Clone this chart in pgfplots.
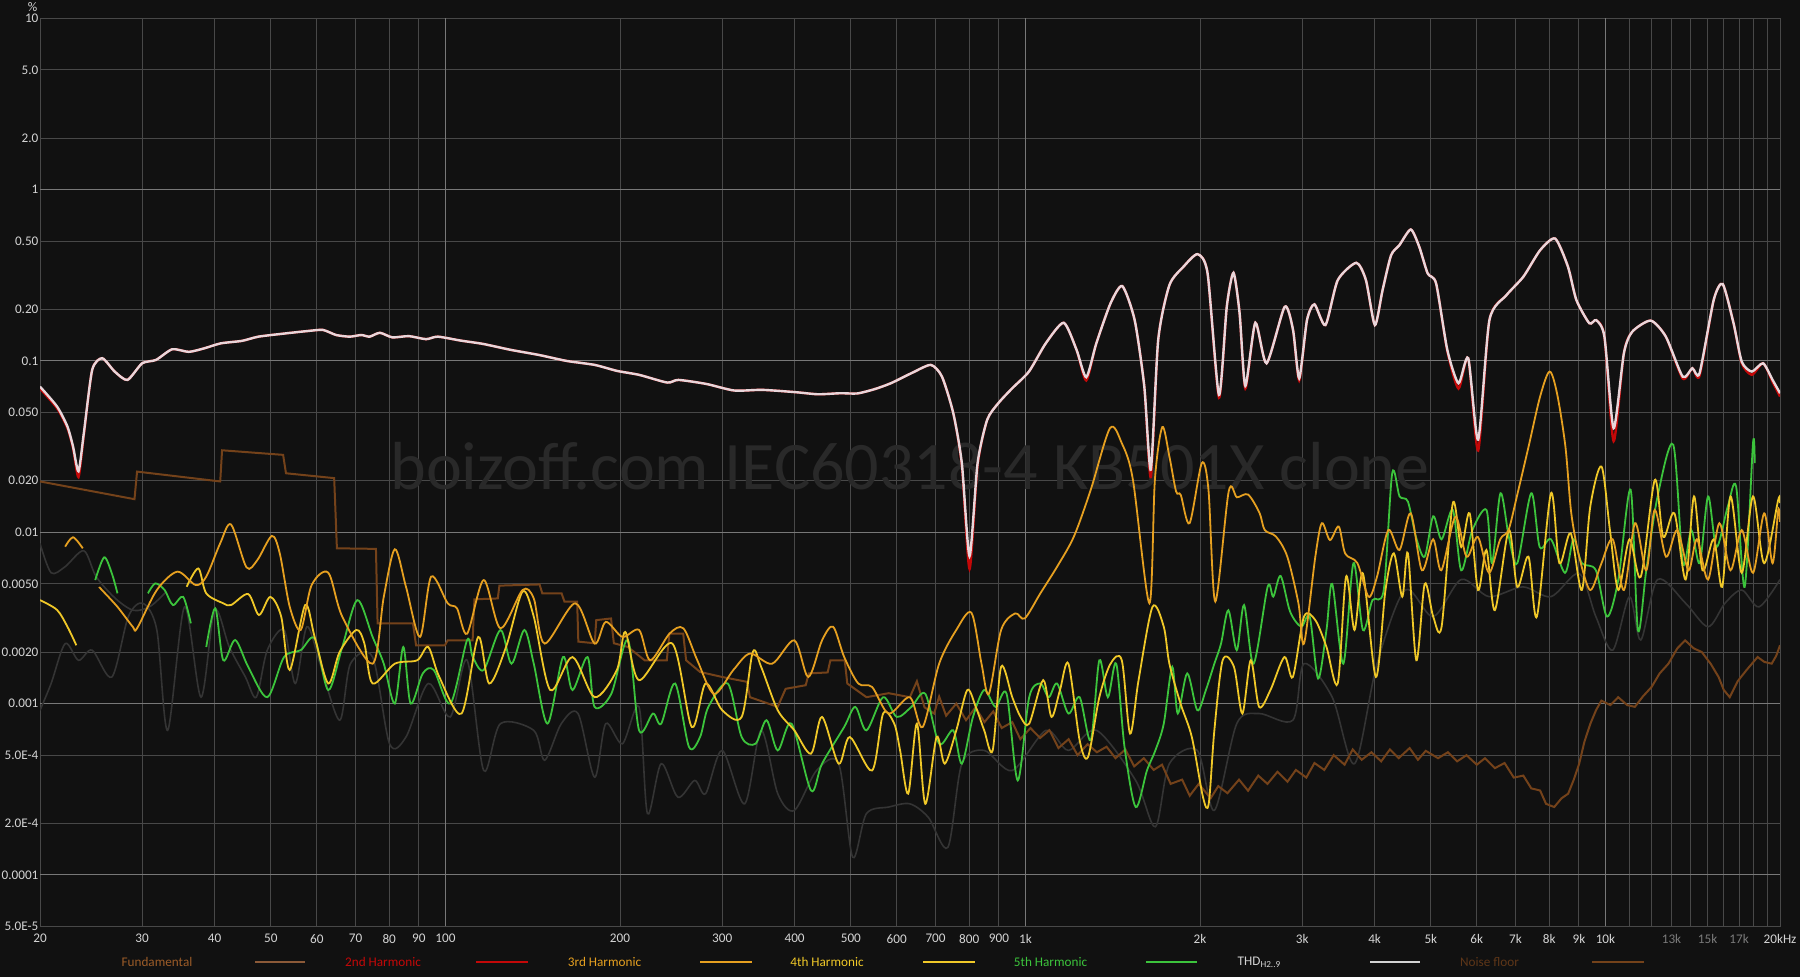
\documentclass[border=0pt]{standalone}
\usepackage{pgfplots}
\pgfplotsset{compat=1.18}
\usepackage{fontspec}
\setmainfont{Carlito}
\definecolor{bg}{HTML}{111111}
\definecolor{gridc}{HTML}{484848}
\definecolor{gridb}{HTML}{787878}
\definecolor{tickc}{HTML}{D4D4D4}
\definecolor{tickdim}{HTML}{7A7A7A}
\definecolor{wm}{HTML}{292929}
\definecolor{thdc}{HTML}{E8D6DA}
\definecolor{h2c}{HTML}{C40808}
\definecolor{h3c}{HTML}{E6A020}
\definecolor{h4c}{HTML}{F0C828}
\definecolor{h5c}{HTML}{3CC43C}
\definecolor{grayc}{HTML}{343434}
\definecolor{noisec}{HTML}{74421A}
\definecolor{fundc}{HTML}{9C5C28}
\definecolor{fundl}{HTML}{8C5A38}
\definecolor{noiset}{HTML}{5E3618}
\begin{document}
\begin{tikzpicture}
\fill[bg] (0,0) rectangle (900pt,488.5pt);
\begin{axis}[
  at={(20pt,25.25pt)}, anchor=south west,
  scale only axis, width=870pt, height=454.1pt,
  xmode=log, ymode=log,
  xmin=20, xmax=20000, ymin=5e-5, ymax=10,
  axis line style={draw=gridc, line width=0.5pt},
  xtick={20,30,40,50,60,70,80,90,100,200,300,400,500,600,700,800,900,1000,2000,3000,4000,5000,6000,7000,8000,9000,10000,11000,12000,13000,14000,15000,16000,17000,18000,19000,20000},
  xticklabels={20,30,40,50,60,70,80,90,100,200,300,400,500,600,700,800,900,1k,2k,3k,4k,5k,6k,7k,8k,9k,10k,,,\textcolor{tickdim}{13k},,\textcolor{tickdim}{15k},,\textcolor{tickdim}{17k},,,20kHz},
  ytick={5e-5,1e-4,2e-4,5e-4,0.001,0.002,0.005,0.01,0.02,0.05,0.1,0.2,0.5,1,2,5,10},
  yticklabels={5.0E-5,0.0001,2.0E-4,5.0E-4,0.001,0.0020,0.0050,0.01,0.020,0.050,0.1,0.20,0.50,1,2.0,5.0,10},
  extra x ticks={100,1000,10000}, extra x tick labels={},
  extra x tick style={grid=major, major grid style={draw=gridb, line width=0.5pt}},
  extra y ticks={1e-4,0.001,0.01,0.1,1}, extra y tick labels={},
  extra y tick style={grid=major, major grid style={draw=gridb, line width=0.5pt}},
  grid=major, major grid style={draw=gridc, line width=0.5pt},
  major tick length=0pt, minor tick num=0,
  ticklabel style={font=\fontsize{6.6}{7}\selectfont, text=tickc},
  xticklabel style={anchor=north, inner sep=0pt, yshift=-3.6pt},
  yticklabel style={anchor=east, inner sep=0pt, xshift=-0.6pt},
  clip=true,
]
\node[anchor=base, text=wm, font=\fontsize{34}{36}\selectfont] at (rel axis cs:0.5,0.481) {boizoff.com IEC60318-4 KB501X clone};

% gray (unlabelled) traces
\addplot[grayc, line width=0.8pt, smooth, tension=0.5] coordinates {
(20,0.0086)(20.9,0.0058)(22.1,0.0063)(23.8,0.0078)(25,0.0055)(27,0.0041)(29,0.0035)(31,0.0037)(33,0.0045)};
\addplot[grayc, line width=0.8pt, smooth, tension=0.5] coordinates {
(20,0.000914)(20.9,0.00131)(22.1,0.00224)(23.3,0.00179)(24.6,0.00205)(26.6,0.00143)(28.4,0.00322)(30.1,0.00385)(31.8,0.00269)(33.2,0.000698)(35.5,0.00367)(37.9,0.00109)(40,0.00351)(42.4,0.00214)(45.2,0.00143)(47.2,0.00109)(49.3,0.00205)(52.7,0.00269)(55.1,0.00131)(57.7,0.00281)(60.8,0.00171)(65.7,0.0008)(68.6,0.00171)(74.9,0.00187)(80.1,0.000583)(85.5,0.000638)(93.4,0.00131)(101.9,0.000836)(109,0.00179)(116.4,0.000407)(124.4,0.000764)(142,0.000698)(148.3,0.000467)(158.4,0.000764)(169.3,0.000875)(180.8,0.000372)(189,0.000764)(201.9,0.000583)(215.7,0.000957)(223,0.000228)(235.5,0.000446)(251.7,0.000284)(269,0.000356)(280.9,0.000298)(300.1,0.000533)(328,0.00026)(350.2,0.000698)(374.1,0.000298)(399.6,0.000238)(436.5,0.000407)(476.4,0.000446)(503.6,0.000127)(532,0.000228)(581,0.000249)(632,0.00026)(680,0.000217)(735,0.000145)(777,0.000446)(849,0.000533)(949,0.000407)(1085,0.000698)(1186,0.000533)(1326,0.000698)(1549,0.000356)(1675,0.000191)(1771,0.000446)(1979,0.000533)(2117,0.000238)(2314,0.000764)(2529,0.000875)(2891,0.0008)(3022,0.00171)(3380,0.00109)(3694,0.000446)(4038,0.00171)(4513,0.0046)(5047,0.00322)(5641,0.0053)(6300,0.00421)(7205,0.0048)(8056,0.00421)(9010,0.00575)(9627,0.00322)(10293,0.00205)(11002,0.00421)(11506,0.00235)(12300,0.0053)(13750,0.00385)(15030,0.00281)(16070,0.00385)(17180,0.0046)(18400,0.00367)(20000,0.0053)};

% noise floor
\addplot[noisec, line width=1pt] coordinates {
(20,0.0198)(29.1,0.0156)(29.4,0.0226)(40.9,0.0198)(41.2,0.0301)(52.5,0.0283)(53.1,0.0221)(64.3,0.0207)(65.0,0.00806)(75.9,0.008)(76.4,0.00294)(87.9,0.00294)(89.0,0.00219)(99.8,0.00219)(100.9,0.00234)(111.4,0.00234)(112.2,0.00406)(123.1,0.00411)(123.9,0.00488)(145.3,0.00496)(146.9,0.0044)(158.6,0.0044)(160.4,0.00394)(168.7,0.00394)(169.5,0.0023)(180.9,0.00225)(182,0.00307)(193,0.00314)(195.2,0.00225)(206.4,0.00214)(220.5,0.00179)(240.8,0.00179)(243.3,0.00256)(257,0.00256)(260,0.00179)(274.8,0.00153)(300,0.00143)(331,0.00134)(335,0.00109)(374,0.000957)(386,0.00122)(418,0.00128)(423,0.0015)(456,0.00152)(461,0.00179)(488,0.00179)(493,0.00131)(532,0.00109)(581,0.00115)(632,0.00109)(650,0.00135)(670,0.00095)(696,0.000875)(710,0.0011)(730,0.00085)(760,0.001)(790,0.0008)(820,0.00095)(850,0.00078)(880,0.0009)(910,0.00072)(949,0.00078)(980,0.00062)(1020,0.00072)(1060,0.00063)(1100,0.0007)(1140,0.00055)(1187,0.00062)(1230,0.0005)(1280,0.00058)(1328,0.00052)(1380,0.00056)(1430,0.00048)(1487,0.00054)(1540,0.00043)(1600,0.00048)(1664,0.00041)(1720,0.00044)(1780,0.00034)(1863,0.00036)(1920,0.00029)(1990,0.00034)(2086,0.00028)(2150,0.00033)(2230,0.0003)(2335,0.00036)(2420,0.00031)(2520,0.00038)(2614,0.00034)(2720,0.0004)(2830,0.00035)(2926,0.00041)(3050,0.00037)(3150,0.00045)(3276,0.00041)(3400,0.0005)(3550,0.00044)(3667,0.00054)(3800,0.00047)(3950,0.00052)(4105,0.00046)(4250,0.00054)(4400,0.00048)(4596,0.00055)(4750,0.00047)(4900,0.00053)(5145,0.00048)(5350,0.00052)(5550,0.00046)(5760,0.0005)(6000,0.00044)(6200,0.00048)(6448,0.00042)(6700,0.00045)(6950,0.00037)(7218,0.00038)(7450,0.00032)(7717,0.000311)(7900,0.00026)(8160,0.000249)(8400,0.00028)(8625,0.000298)(8820,0.00036)(9010,0.000446)(9200,0.0006)(9420,0.000764)(9640,0.00092)(9840,0.00104)(10200,0.00098)(10520,0.00109)(10900,0.00098)(11240,0.000957)(11600,0.0011)(12010,0.00125)(12400,0.0015)(12840,0.00171)(13300,0.0021)(13720,0.00234)(14200,0.0021)(14660,0.002)(15200,0.0017)(15670,0.00143)(16000,0.0012)(16380,0.00109)(16900,0.00135)(17510,0.00157)(18300,0.00187)(18800,0.00175)(19350,0.00171)(19700,0.0019)(20000,0.00219)};

% 5th harmonic (drawn in segments where it rises above the rest)
\addplot[h5c, line width=0.9pt, smooth, tension=0.5] coordinates {
(24.9,0.00526)(25.8,0.00714)(26.6,0.00575)(27.2,0.0044)};
\addplot[h5c, line width=0.9pt, smooth, tension=0.5] coordinates {
(30.7,0.0044)(31.6,0.00503)(32.8,0.0046)(33.9,0.00376)(35.3,0.0042)(36.4,0.00294)};
\addplot[h5c, line width=0.9pt, smooth, tension=0.5] coordinates {
(38.7,0.00214)(40.1,0.0036)(41.4,0.00179)(43.4,0.00235)(45.7,0.00164)(49.3,0.00109)(52.7,0.00187)(56.3,0.00205)(59.5,0.0024)(62.8,0.0012)(66.4,0.00214)(70.5,0.00402)(74.9,0.00245)(78.3,0.00171)(81.8,0.001)(84.6,0.00214)(87.1,0.001)(91.4,0.0015)(95.5,0.00157)(102,0.001)(109,0.00235)(111.4,0.00188)(116.4,0.00157)(124.4,0.00269)(130,0.00171)(136.8,0.00269)(142,0.00171)(150,0.000764)(159.5,0.00187)(165.6,0.0012)(175.8,0.00187)(180.8,0.000957)(193.2,0.00114)(206.4,0.00235)(215.7,0.000698)(227.9,0.000875)(235.5,0.000764)(248.9,0.00131)(263,0.000558)(274.8,0.000638)(284,0.000957)(306.8,0.00131)(324.2,0.000638)(342.5,0.000583)(357.9,0.0008)(374.1,0.000533)(395.2,0.000764)(426.9,0.000311)(446,0.000446)(487,0.000731)(509,0.000957)(532,0.000698)(568.4,0.00109)(600,0.000836)(636,0.000957)(672,0.00114)(710,0.000583)(751,0.000698)(777,0.000446)(812,0.000836)(849,0.0012)(888,0.000957)(928,0.00114)(970,0.000356)(1015,0.00109)(1061,0.00131)(1097,0.00109)(1134,0.00131)(1186,0.000875)(1240,0.00109)(1296,0.000611)(1341,0.00179)(1387,0.00109)(1434,0.00171)(1482,0.000558)(1549,0.000249)(1620,0.000407)(1675,0.000533)(1732,0.000764)(1791,0.00164)(1831,0.000875)(1901,0.0015)(1979,0.000914)(2047,0.0012)(2117,0.00171)(2174,0.00224)(2238,0.00351)(2314,0.00205)(2382,0.00376)(2474,0.00171)(2616,0.00481)(2675,0.00421)(2754,0.00556)(2860,0.00344)(2989,0.00281)(3091,0.00322)(3196,0.0014)(3304,0.00269)(3380,0.005)(3533,0.00171)(3678,0.0066)(3819,0.00269)(3966,0.00402)(4147,0.0046)(4289,0.0221)(4416,0.0162)(4565,0.0151)(4720,0.00923)(4880,0.00721)(5047,0.0124)(5218,0.0091)(5456,0.0135)(5641,0.006)(5897,0.0103)(6235,0.0135)(6376,0.0066)(6592,0.0169)(6815,0.0094)(7047,0.0066)(7450,0.0169)(7704,0.0082)(8056,0.0091)(8518,0.0058)(8808,0.0091)(9106,0.0066)(9627,0.006)(10064,0.00322)(10525,0.0053)(11052,0.0177)(11376,0.00269)(11760,0.006)(12300,0.0162)(13090,0.0324)(13600,0.0066)(14060,0.0103)(14540,0.0066)(15030,0.0162)(15540,0.0082)(16250,0.0141)(16800,0.0185)(17380,0.0048)(17965,0.0331)(18090,0.0253)};

% 4th harmonic
\addplot[h4c, line width=0.9pt, smooth, tension=0.5] coordinates {
(20,0.00402)(21.4,0.00352)(22.3,0.00281)(23.1,0.00219)};
\addplot[h4c, line width=0.9pt, smooth, tension=0.5] coordinates {
(35.8,0.00481)(37.5,0.00615)(38.7,0.0044)(41.4,0.00385)(42.7,0.00376)(45.7,0.00436)(47.7,0.00329)(49.9,0.0042)(52.1,0.00322)(53.9,0.00157)(57.3,0.00376)(59.5,0.00245)(62.8,0.00131)(65.7,0.002)(70.2,0.00269)(72.5,0.00224)(74.9,0.00131)(81.8,0.00171)(89.4,0.00179)(93.4,0.00214)(97.6,0.00143)(106.6,0.000875)(113.9,0.00245)(119,0.00131)(127.2,0.00214)(135.8,0.0045)(142,0.00322)(151.6,0.0012)(165.6,0.00187)(180.8,0.00109)(197.5,0.00157)(204.2,0.00262)(215.7,0.00137)(246.2,0.00224)(265.9,0.00073)(280.9,0.00131)(300.1,0.000914)(324.2,0.000836)(338.8,0.002)(350.2,0.00164)(374.1,0.000914)(399.6,0.000698)(426.9,0.00051)(446,0.000836)(476.4,0.000446)(498,0.000638)(544,0.000407)(568.4,0.000875)(594,0.000764)(608,0.000533)(628,0.000298)(650,0.000764)(672,0.00026)(703,0.000638)(726,0.000446)(760,0.000698)(794,0.0012)(821,0.000957)(849,0.000698)(878,0.000533)(908,0.00164)(949,0.00109)(981,0.000836)(1015,0.000764)(1073,0.00137)(1109,0.000836)(1147,0.0012)(1186,0.00171)(1240,0.000611)(1282,0.000488)(1341,0.00109)(1402,0.00171)(1466,0.00179)(1515,0.000668)(1567,0.00137)(1656,0.00367)(1732,0.00281)(1771,0.00171)(1851,0.001)(1936,0.000638)(2024,0.000284)(2070,0.00026)(2117,0.000698)(2188,0.00179)(2288,0.00164)(2366,0.000875)(2446,0.00179)(2529,0.000957)(2645,0.0012)(2796,0.00187)(2891,0.00143)(3022,0.00322)(3161,0.00307)(3304,0.00214)(3455,0.00131)(3572,0.00551)(3693,0.00269)(3819,0.00575)(4020,0.00143)(4176,0.0046)(4317,0.00754)(4464,0.00421)(4565,0.00754)(4720,0.00179)(4880,0.005)(5047,0.00322)(5218,0.00281)(5456,0.0148)(5641,0.0082)(5833,0.0129)(6030,0.0046)(6235,0.00788)(6447,0.00351)(6815,0.0103)(7047,0.0048)(7368,0.00721)(7618,0.00322)(8056,0.0169)(8329,0.0066)(8710,0.00987)(9106,0.0046)(9415,0.0141)(9844,0.0242)(10180,0.0103)(10525,0.0046)(11002,0.0091)(11506,0.0055)(12165,0.0202)(12580,0.0094)(13150,0.0129)(13750,0.0053)(14215,0.0162)(14700,0.006)(15370,0.0091)(15895,0.0048)(16435,0.0162)(17180,0.0058)(17965,0.0162)(18780,0.0066)(19860,0.0155)(20000,0.0148)};

% 3rd harmonic
\addplot[h3c, line width=0.9pt, smooth, tension=0.5] coordinates {
(22.1,0.00824)(22.8,0.00935)(23.7,0.00806)};
\addplot[h3c, line width=0.9pt, smooth, tension=0.5] coordinates {
(25.3,0.0048)(25.5,0.00465)(27.2,0.00367)(28.9,0.00281)(29.4,0.00275)(31.8,0.0046)(34.5,0.00589)(37.1,0.00492)(38.7,0.00551)(40.9,0.00863)(42.7,0.0111)(45.4,0.00624)(47.4,0.00689)(50.2,0.00952)(51.8,0.00754)(53.9,0.00367)(56.3,0.00269)(58.8,0.00492)(62.8,0.00581)(66.4,0.00322)(74.9,0.00171)(78.3,0.0042)(81.8,0.00796)(85.5,0.00481)(90.4,0.00245)(94.5,0.00551)(100.9,0.00385)(104.7,0.0036)(109,0.00256)(116.4,0.00526)(124.4,0.00275)(135.8,0.0046)(142,0.00411)(148.3,0.00224)(167.4,0.00385)(180.8,0.00224)(189,0.003)(201.9,0.00245)(215.7,0.00269)(225.4,0.00179)(243.4,0.00256)(257.2,0.00275)(271.8,0.00179)(290.4,0.00114)(313.6,0.00157)(335,0.00196)(365.9,0.00171)(399.6,0.00234)(422.3,0.00143)(446,0.00234)(466,0.00281)(487,0.00187)(515,0.00131)(544,0.00125)(581,0.000875)(632,0.00109)(665,0.00073)(710,0.00171)(760,0.00269)(807,0.00339)(840,0.00171)(865,0.00114)(908,0.00269)(960,0.00336)(997,0.00314)(1061,0.0044)(1134,0.0063)(1212,0.00944)(1296,0.0177)(1399,0.0405)(1466,0.0331)(1532,0.0203)(1636,0.00385)(1672,0.0203)(1722,0.0411)(1771,0.0277)(1819,0.0173)(1853,0.0165)(1919,0.0113)(2014,0.0253)(2068,0.0177)(2125,0.00394)(2241,0.0173)(2316,0.016)(2420,0.0166)(2532,0.013)(2586,0.0103)(2704,0.00944)(2828,0.00721)(2956,0.00385)(3022,0.00224)(3161,0.0072)(3244,0.0113)(3350,0.009)(3469,0.0108)(3560,0.0075)(3736,0.0066)(3906,0.0042)(4038,0.0055)(4223,0.0103)(4415,0.00788)(4616,0.0129)(4826,0.006)(5046,0.0091)(5213,0.006)(5512,0.0123)(5762,0.0072)(6025,0.0094)(6300,0.0058)(6586,0.0091)(6806,0.0103)(7048,0.0166)(7372,0.0317)(7717,0.062)(8010,0.0867)(8250,0.0648)(8530,0.0317)(8730,0.013)(9010,0.0072)(9415,0.0046)(9844,0.0066)(10293,0.0091)(10760,0.0046)(11250,0.0113)(11760,0.006)(12160,0.0135)(12720,0.0072)(13300,0.0103)(13910,0.006)(14380,0.0091)(15030,0.0053)(15720,0.0113)(16430,0.006)(17180,0.0103)(17970,0.0058)(18780,0.0129)(19420,0.0066)(19860,0.0135)(20000,0.0115)};

% 2nd harmonic
\addplot[h2c, line width=1.2pt, smooth, tension=0.4] coordinates {
(20,0.069)(21.4,0.053)(22.3,0.0405)(22.8,0.031)(23.3,0.021)(23.8,0.037)(24.6,0.0886)(25.6,0.1037)(26.9,0.0867)(28.3,0.0775)(30.0,0.0969)(31.7,0.1014)(33.8,0.117)(36.1,0.113)(38.4,0.1185)(41.0,0.1267)(44.6,0.131)(47.6,0.1386)(53.1,0.1449)(58.0,0.1496)(61.5,0.1517)(64.8,0.1417)(68.4,0.1386)(71.6,0.1417)(74.0,0.1386)(77.1,0.146)(81.0,0.1373)(86.5,0.1396)(92.6,0.134)(97.0,0.1386)(106.2,0.1315)(116.1,0.1257)(129.7,0.116)(144.9,0.1084)(161.9,0.1)(180.9,0.0948)(197.6,0.0875)(215.9,0.0829)(241.2,0.0748)(252.2,0.0775)(281.8,0.0734)(314.8,0.0672)(351.7,0.0678)(402,0.0657)(439,0.0639)(480,0.0648)(513,0.0646)(549,0.0684)(586,0.0741)(639,0.0855)(687,0.0948)(718,0.081)(751,0.0496)(777,0.0245)(801,0.0061)(827,0.0245)(859,0.0453)(898,0.0567)(949,0.0693)(1014,0.0867)(1084,0.1267)(1164,0.167)(1225,0.116)(1273,0.077)(1325,0.1267)(1402,0.217)(1469,0.2735)(1543,0.173)(1603,0.0709)(1645,0.021)(1694,0.1325)(1771,0.277)(1873,0.355)(1981,0.42)(2061,0.324)(2156,0.061)(2224,0.2073)(2284,0.327)(2340,0.19)(2394,0.069)(2491,0.167)(2605,0.0969)(2799,0.207)(2893,0.152)(2965,0.077)(3058,0.173)(3150,0.214)(3291,0.162)(3455,0.296)(3720,0.374)(3865,0.296)(4004,0.162)(4128,0.259)(4270,0.414)(4413,0.474)(4617,0.585)(4775,0.464)(4938,0.324)(5106,0.283)(5338,0.114)(5580,0.069)(5800,0.1037)(6034,0.030)(6309,0.173)(6750,0.242)(7218,0.31)(7717,0.443)(8190,0.518)(8617,0.355)(8910,0.227)(9380,0.166)(9640,0.173)(9960,0.1386)(10330,0.034)(10760,0.111)(11120,0.148)(11970,0.172)(12710,0.1386)(13590,0.079)(14120,0.0906)(14530,0.082)(15370,0.227)(15930,0.281)(16630,0.166)(17180,0.097)(17880,0.083)(18700,0.0969)(19420,0.0755)(20000,0.062)};

% THD
\addplot[thdc, line width=1.2pt, smooth, tension=0.4] coordinates {
(20,0.0708)(21.4,0.0542)(22.3,0.0414)(22.8,0.0317)(23.3,0.0227)(23.8,0.0379)(24.6,0.0886)(25.6,0.1037)(26.9,0.0867)(28.3,0.0775)(30.0,0.0969)(31.7,0.1014)(33.8,0.117)(36.1,0.113)(38.4,0.1185)(41.0,0.1267)(44.6,0.131)(47.6,0.1386)(53.1,0.1449)(58.0,0.1496)(61.5,0.1517)(64.8,0.1417)(68.4,0.1386)(71.6,0.1417)(74.0,0.1386)(77.1,0.146)(81.0,0.1373)(86.5,0.1396)(92.6,0.134)(97.0,0.1386)(106.2,0.1315)(116.1,0.1257)(129.7,0.116)(144.9,0.1084)(161.9,0.1)(180.9,0.0948)(197.6,0.0875)(215.9,0.0829)(241.2,0.0748)(252.2,0.0775)(281.8,0.0734)(314.8,0.0672)(351.7,0.0678)(402,0.0657)(439,0.0639)(480,0.0648)(513,0.0646)(549,0.0684)(586,0.0741)(639,0.0855)(687,0.0948)(718,0.081)(751,0.0496)(777,0.0253)(801,0.00725)(827,0.0253)(859,0.0453)(898,0.0567)(949,0.0693)(1014,0.0867)(1084,0.1267)(1164,0.167)(1225,0.116)(1273,0.0804)(1325,0.1267)(1402,0.217)(1469,0.2735)(1543,0.173)(1603,0.0709)(1645,0.0232)(1694,0.1325)(1771,0.277)(1873,0.355)(1981,0.42)(2061,0.324)(2156,0.0634)(2224,0.2073)(2284,0.327)(2340,0.19)(2394,0.0715)(2491,0.167)(2605,0.0969)(2799,0.207)(2893,0.152)(2965,0.0793)(3058,0.173)(3150,0.214)(3291,0.162)(3455,0.296)(3720,0.374)(3865,0.296)(4004,0.162)(4128,0.259)(4270,0.414)(4413,0.474)(4617,0.585)(4775,0.464)(4938,0.324)(5106,0.283)(5338,0.116)(5580,0.0741)(5800,0.1037)(6034,0.0347)(6309,0.173)(6750,0.242)(7218,0.31)(7717,0.443)(8190,0.518)(8617,0.355)(8910,0.227)(9380,0.166)(9640,0.173)(9960,0.1386)(10330,0.0405)(10760,0.111)(11120,0.148)(11970,0.172)(12710,0.1386)(13590,0.081)(14120,0.0906)(14530,0.0848)(15370,0.227)(15930,0.281)(16630,0.166)(17180,0.099)(17880,0.0867)(18700,0.0969)(19420,0.0775)(20000,0.0648)};
\end{axis}

% unit label
\node[text=tickc, font=\fontsize{6.6}{7}\selectfont, inner sep=0pt] at (16.35pt,484.9pt) {\%};

% legend
\begin{scope}[every node/.style={font=\fontsize{6.6}{7}\selectfont, inner sep=0pt, anchor=center}]
\node[text=fundc] at (78.5pt,7.5pt) {Fundamental};
\draw[fundl, line width=1pt] (127.5pt,7.5pt) -- (152.5pt,7.5pt);
\node[text=h2c] at (191.5pt,7.5pt) {2nd Harmonic};
\draw[h2c, line width=1pt] (238pt,7.5pt) -- (264pt,7.5pt);
\node[text=h3c] at (302.25pt,7.5pt) {3rd Harmonic};
\draw[h3c, line width=1pt] (350pt,7.5pt) -- (376pt,7.5pt);
\node[text=h4c] at (413.5pt,7.5pt) {4th Harmonic};
\draw[h4c, line width=1pt] (461.5pt,7.5pt) -- (487.5pt,7.5pt);
\node[text=h5c] at (525.25pt,7.5pt) {5th Harmonic};
\draw[h5c, line width=1pt] (573pt,7.5pt) -- (598.5pt,7.5pt);
\node[text=tickc] at (629.75pt,7.5pt) {THD\textsubscript{H2..9}};
\draw[tickc, line width=1pt] (685pt,7.5pt) -- (710pt,7.5pt);
\node[text=noiset] at (744.75pt,7.5pt) {Noise floor};
\draw[noisec, line width=1pt] (796pt,7.5pt) -- (822pt,7.5pt);
\end{scope}
\end{tikzpicture}
\end{document}
